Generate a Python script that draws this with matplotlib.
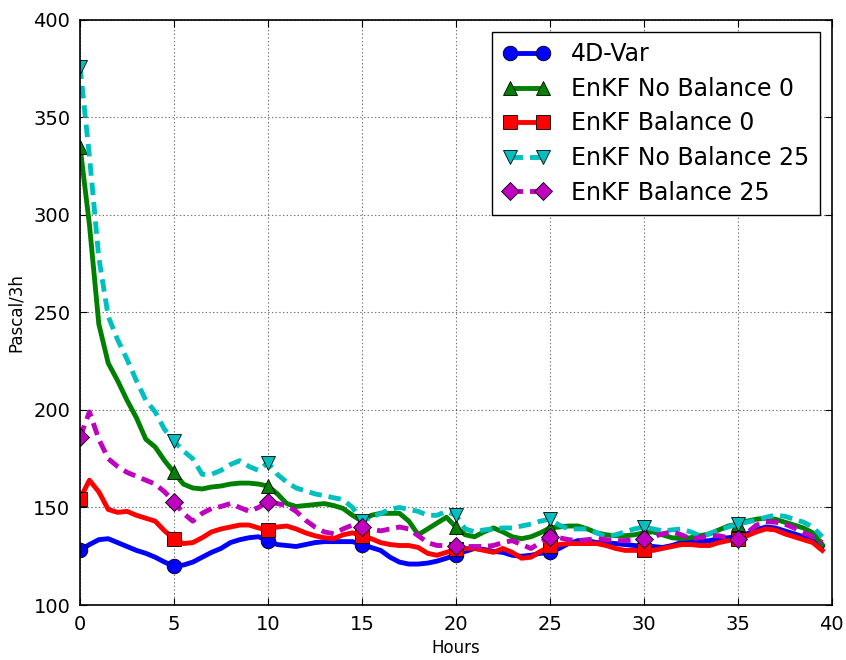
import numpy as np
from matplotlib import pyplot as plt

# half-hourly values, 0 to 39.5 h
hours = np.arange(0, 40, 0.5)

var4d = [
    128, 131, 133.5, 134, 132, 130, 128, 126.5, 124.5, 122,
    120, 120.5, 122, 124.5, 127, 129, 132, 133.5, 134.5, 135,
    133, 131, 130.5, 130, 131, 132, 132.5, 132.5, 132.5, 132.5,
    131, 129.5, 128, 124.5, 122, 121, 121, 121.5, 122.5, 124,
    125.5, 127.5, 129, 128.5, 127.5, 127, 125.5, 125, 125.5, 126.5,
    127, 129, 131.5, 133, 133, 132, 132, 131.5, 131, 130.5,
    130, 130, 129.5, 130.5, 132, 132.5, 132.5, 133, 134, 134.5,
    135, 136.5, 138.5, 140, 139.5, 138, 136.5, 135, 133, 130,
]

enkf_nobal_0 = [
    335, 295, 244, 224, 215, 205, 196, 185, 181, 174,
    168, 162, 160, 159.5, 160.5, 161, 162, 162.5, 162.5, 162,
    161, 157, 152, 150.5, 151, 151.5, 152, 151, 149.5, 146,
    143, 146, 147, 147, 147, 143, 136, 139, 142, 145,
    140, 136, 135, 137.5, 139.5, 137.5, 135, 134, 135, 137,
    139.5, 140, 140.5, 140.5, 139, 137, 136, 135.5, 135.5, 136,
    137, 137.5, 136, 134.5, 134, 134.5, 135.5, 136.5, 138.5, 140.5,
    141.5, 143, 144, 144.5, 144, 142.5, 141, 139.5, 137, 131,
]

enkf_bal_0 = [
    154.5, 164, 158, 149, 147.5, 148, 146, 144.5, 143, 138,
    134, 131.5, 132, 134.5, 137.5, 139, 140, 141, 141, 139.5,
    138.5, 140, 140.5, 139, 137, 135.5, 134.5, 134, 136, 137,
    135.5, 134, 132, 131, 130.5, 130.5, 129.5, 126.5, 125.5, 127,
    128.5, 129, 129, 128, 127, 129, 127, 124, 124.5, 127.5,
    130, 131, 131.5, 131.5, 131.5, 131.5, 130.5, 129, 128, 128,
    128, 128, 129, 130, 131, 131, 130.5, 130.5, 132, 133,
    134, 135.5, 137.5, 139, 138.5, 136.5, 135, 133.5, 132, 128,
]

enkf_nobal_25 = [
    376, 330, 278, 248, 236, 226, 215, 205, 199, 190,
    184, 179, 175, 167, 167, 169, 172, 174, 171, 169,
    173, 167, 163, 160, 158.5, 157, 156, 155, 154, 150,
    143, 145, 147, 149, 150, 149, 148, 146, 146, 148,
    146, 139, 137.5, 138.5, 139, 139.5, 139.5, 140.5, 141.5, 143,
    144, 141, 139, 139, 139, 137, 135, 136, 137.5, 139,
    140, 139, 138, 138.5, 139, 137.5, 135.5, 136.5, 138.5, 140,
    141.5, 142.5, 143.5, 145, 146, 145.5, 144, 142.5, 140, 135,
]

enkf_bal_25 = [
    186, 199, 185, 175, 171, 168, 166, 164, 162, 158,
    153, 147, 143, 147, 149.5, 150.5, 152, 150, 148, 150,
    153, 152, 151, 148, 143.5, 140, 137.5, 136.5, 139, 141,
    140, 139, 138, 139, 140, 139, 135.5, 132, 130.5, 130.5,
    130.5, 130, 130, 130, 130.5, 132, 133, 131, 129, 132,
    135, 134.5, 133.5, 133, 133.5, 134, 133.5, 133, 133, 133.5,
    134, 135, 136.5, 137.5, 136, 134, 134.5, 135.5, 135.5, 134.5,
    134, 137, 141, 142.7, 142.5, 141.5, 139.5, 137, 135, 132,
]

series = [
    ('4D-Var', var4d, 'b', 'o', '-'),
    ('EnKF No Balance 0', enkf_nobal_0, 'g', '^', '-'),
    ('EnKF Balance 0', enkf_bal_0, 'r', 's', '-'),
    ('EnKF No Balance 25', enkf_nobal_25, 'c', 'v', '--'),
    ('EnKF Balance 25', enkf_bal_25, 'm', 'D', '--'),
]

plt.rcParams['lines.scale_dashes'] = False

fig = plt.figure(figsize=(8.46, 6.6), dpi=100)
ax = fig.add_axes([0.0946, 0.0833, 0.8884, 0.8867])

for label, values, color, marker, ls in series:
    kw = dict(dashes=(9, 5)) if ls == '--' else {}
    ax.plot(
        hours,
        values,
        color=color,
        linestyle=ls,
        linewidth=3.5,
        marker=marker,
        markersize=10.5 if marker != 'D' else 9.5,
        markeredgecolor='k',
        markeredgewidth=0.6,
        markevery=10,
        label=label,
        **kw,
    )

ax.set_xlim(0, 40)
ax.set_ylim(100, 400)
ax.set_xticks(np.arange(0, 41, 5))
ax.set_yticks(np.arange(100, 401, 50))
ax.tick_params(axis='both', which='major', labelsize=14, direction='in',
               top=True, right=True, length=5, pad=7)
ax.grid(True, linestyle=':', color='k', linewidth=0.8, alpha=0.55)
for sp in ax.spines.values():
    sp.set_linewidth(1.2)

ax.set_xlabel('Hours', size=12, labelpad=4)
ax.set_ylabel('Pascal/3h', size=12, labelpad=6)

leg = ax.legend(loc='upper right', numpoints=2, fontsize=17, fancybox=False,
                framealpha=1, edgecolor='k', handlelength=2.0,
                handletextpad=0.9, borderaxespad=0.5, borderpad=0.45,
                labelspacing=0.45)
leg.get_frame().set_linewidth(1.0)

plt.savefig('out.png', dpi=100)
